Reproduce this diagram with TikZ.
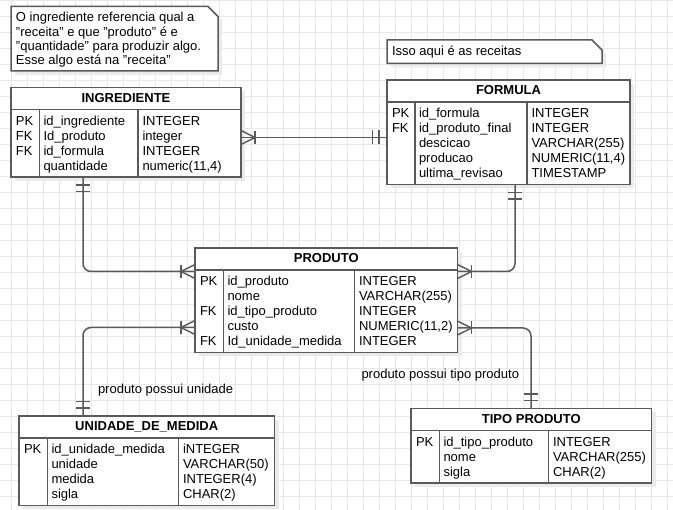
\documentclass[tikz,border=0pt]{standalone}
\usepackage{fontspec}
\setmainfont{Liberation Sans}
\usetikzlibrary{fit}
\definecolor{bordc}{HTML}{5A5A5A}
\definecolor{gridc}{HTML}{E8E8E8}
\definecolor{shadc}{HTML}{EBEBEB}
\tikzset{
  conn/.style={draw=bordc, line width=1.5pt},
  bord/.style={draw=bordc, line width=1.5pt},
  tbl/.style={draw=bordc, line width=1.5pt, fill=white, inner sep=0pt, outer sep=0pt},
  notebox/.style={draw=bordc, line width=1.5pt, fill=white},
  txt/.style={inner sep=0pt, outer sep=0pt, anchor=base west, font=\fontsize{13}{15}\selectfont},
  ttl/.style={inner sep=0pt, outer sep=0pt, anchor=base, font=\fontsize{13}{15}\selectfont\bfseries},
  crowfoot/.pic={\draw[conn] (0,-7) -- (14,0) -- (0,7); \draw[conn] (14,-6.5) -- (14,6.5);},
  onebar/.pic={\draw[conn] (8,-7) -- (8,7); \draw[conn] (14.5,-7) -- (14.5,7);},
}
% #1 name #2 left #3 right #4 top #5 col1 #6 col2 #7 nrows #8 title
\newcommand\erentity[8]{%
  \pgfmathsetmacro\erbot{#4+29.5+15*#7}%
  \fill[shadc] (#2+4,#4+4) rectangle (#3+4,\erbot+4);
  \node[tbl, fit={(#2,#4) (#3,\erbot)}] (#1) {};
  \draw[bord] (#2,#4+22) -- (#3,#4+22);
  \draw[bord] (#5,#4+22) -- (#5,\erbot);
  \draw[bord] (#6,#4+22) -- (#6,\erbot);
  \node[ttl] (#1-title) at ({(#2+#3)/2},#4+15) {#8};
}
% #1 name #2 left #3 col1 #4 col2 #5 top #6 list
\newcommand\errows[6]{%
  \foreach \erK/\erN/\erT [count=\erI] in {#6} {
    \node[txt] (#1-k\erI) at (#2+5,#5+23+15*\erI) {\erK};
    \node[txt] (#1-n\erI) at (#3+4,#5+23+15*\erI) {\erN};
    \node[txt] (#1-t\erI) at (#4+4.5,#5+23+15*\erI) {\erT};
  }}
\begin{document}
\begin{tikzpicture}[x=1pt,y=-1pt]
\useasboundingbox (0,0) rectangle (673,510);
\fill[white] (0,0) rectangle (673,510);
\foreach \k in {0,...,41} \draw[gridc, line width=1pt] (11.5+16*\k,0) -- (11.5+16*\k,510);
\foreach \k in {0,...,31} \draw[gridc, line width=1pt] (0,0.5+16*\k) -- (673,0.5+16*\k);

% notes
\fill[shadc] (15,10.5) -- (212,10.5) -- (222,20.5) -- (222,75) -- (15,75) -- cycle;
\draw[notebox] (11,6.5) -- (208,6.5) -- (218,16.5) -- (218,71) -- (11,71) -- cycle;
\node[txt] (n1a) at (16,22) {O ingrediente referencia qual a};
\node[txt] (n1b) at (16,36.3) {"receita" e que "produto" é e};
\node[txt] (n1c) at (16,50.4) {"quantidade" para produzir algo.};
\node[txt] (n1d) at (16,64.6) {Esse algo está na "receita"};

\fill[shadc] (391,44) -- (596,44) -- (606,54) -- (606,67.5) -- (391,67.5) -- cycle;
\draw[notebox] (387,40) -- (592,40) -- (602,50) -- (602,63.5) -- (387,63.5) -- cycle;
\node[txt] (n2a) at (392,55.3) {Isso aqui é as receitas};

% entities
\erentity{ing}{11}{241}{87.5}{39.5}{138}{4}{INGREDIENTE}
\errows{ing}{11}{39.5}{138}{87.5}{PK/id\_ingrediente/INTEGER, FK/Id\_produto/integer, FK/id\_formula/INTEGER, /quantidade/{numeric(11,4)}}

\erentity{for}{387}{630}{80}{415}{527}{5}{FORMULA}
\errows{for}{387}{415}{527}{80}{PK/id\_formula/INTEGER, FK/id\_produto\_final/INTEGER, /descicao/{VARCHAR(255)}, /producao/{NUMERIC(11,4)}, /ultima\_revisao/TIMESTAMP}

\erentity{pro}{195}{457.5}{248}{223.5}{354.5}{5}{PRODUTO}
\errows{pro}{195}{223.5}{354.5}{248}{PK/id\_produto/INTEGER, /nome/{VARCHAR(255)}, FK/id\_tipo\_produto/INTEGER, /custo/{NUMERIC(11,2)}, FK/Id\_unidade\_medida/INTEGER}

\erentity{uni}{19}{274.5}{416}{47.5}{178.5}{4}{UNIDADE\_DE\_MEDIDA}
\errows{uni}{19}{47.5}{178.5}{416}{PK/id\_unidade\_medida/iNTEGER, /unidade/{VARCHAR(50)}, /medida/{INTEGER(4)}, /sigla/{CHAR(2)}}

\erentity{tip}{411}{651.5}{408.5}{439.5}{548.5}{3}{TIPO PRODUTO}
\errows{tip}{411}{439.5}{548.5}{408.5}{PK/id\_tipo\_produto/INTEGER, /nome/{VARCHAR(255)}, /sigla/{CHAR(2)}}

% connectors
\draw[conn] (ing.east |- 0,137.5) -- (for.west |- 0,137.5);
\draw[conn, rounded corners=8pt] (ing.south -| 83,0) |- (pro.west |- 0,271.5);
\draw[conn, rounded corners=8pt] (for.south -| 515,0) |- (pro.east |- 0,271.5);
\draw[conn, rounded corners=8pt] (pro.west |- 0,327.5) -| (uni.north -| 83,0);
\draw[conn, rounded corners=8pt] (pro.east |- 0,328) -| (tip.north -| 531,0);

\pic at (ing.east |- 0,137.5) {crowfoot};
\pic[rotate=180] at (for.west |- 0,137.5) {onebar};
\pic[rotate=-90] at (ing.south -| 83,0) {onebar};
\pic[rotate=180] at (pro.west |- 0,271.5) {crowfoot};
\pic[rotate=-90] at (for.south -| 515,0) {onebar};
\pic at (pro.east |- 0,271.5) {crowfoot};
\pic[rotate=180] at (pro.west |- 0,327.5) {crowfoot};
\pic[rotate=90] at (uni.north -| 83,0) {onebar};
\pic at (pro.east |- 0,328) {crowfoot};
\pic[rotate=90] at (tip.north -| 531,0) {onebar};

\node[txt] (lab1) at (98,393.5) {produto possui unidade};
\node[txt] (lab2) at (361.5,378.5) {produto possui tipo produto};
\end{tikzpicture}
\end{document}
